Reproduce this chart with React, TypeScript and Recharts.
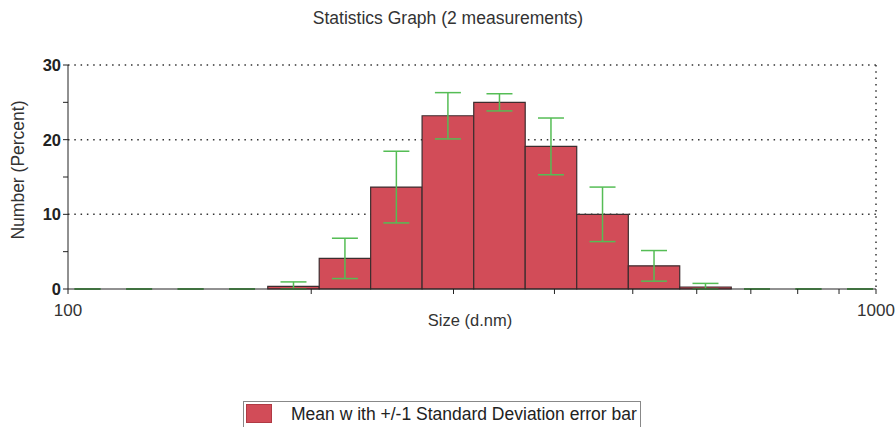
import React from "react";
import {
  ComposedChart,
  XAxis,
  YAxis,
  CartesianGrid,
  ReferenceArea,
  Scatter,
  ErrorBar,
} from "recharts";

// Size classes (d.nm): lower and upper edges of each bin
const binLow = [98.2, 113.8, 131.8, 152.6, 176.7, 204.6, 236.9, 274.3, 317.8, 368.0, 426.2, 493.7, 571.6, 662.0, 766.6, 887.8];
const binHigh = [113.8, 131.8, 152.6, 176.7, 204.6, 236.9, 274.3, 317.8, 368.0, 426.2, 493.7, 571.6, 662.0, 766.6, 887.8, 1028.0];
// Mean number percent per bin
const meanValues = [0, 0, 0, 0, 0.35, 4.1, 13.65, 23.2, 25.0, 19.1, 10.0, 3.1, 0.27, 0, 0, 0];
// Standard deviation per bin
const sdValues = [0, 0, 0, 0, 0.6, 2.7, 4.8, 3.1, 1.15, 3.8, 3.65, 2.05, 0.48, 0, 0, 0];

const xTicks = [100, 200, 300, 400, 500, 600, 700, 800, 900, 1000];
const xLabels = [100, 1000];
const yTicks = [0, 5, 10, 15, 20, 25, 30];
const yLabels = [0, 10, 20, 30];

const title = "Statistics Graph (2 measurements)";
const xTitle = "Size (d.nm)";
const yTitle = "Number (Percent)";
const legendText = "Mean w ith +/-1 Standard Deviation error bar";

const FILL = "#d24c58";
const EDGE = "#3d2d2f";
const GREEN = "#55bd55";
const FONT = "'Liberation Sans', Arial, sans-serif";

const points = meanValues.map((m, i) => ({
  size: Math.sqrt(binLow[i] * binHigh[i]),
  mean: m,
  err: [Math.min(m, sdValues[i]), sdValues[i]],
}));

export default function App() {
  return (
    <div
      style={{
        position: "absolute",
        left: 0,
        top: 0,
        width: 896,
        height: 427,
        background: "#fff",
        fontFamily: FONT,
        overflow: "hidden",
      }}
    >
      <div
        style={{
          position: "absolute",
          top: 8,
          left: 448,
          transform: "translateX(-50%)",
          fontSize: 17.5,
          color: "#333",
          whiteSpace: "nowrap",
        }}
      >
        {title}
      </div>
      <div
        style={{
          position: "absolute",
          left: 18,
          top: 170,
          transform: "translate(-50%, -50%) rotate(-90deg)",
          fontSize: 17.5,
          color: "#333",
          whiteSpace: "nowrap",
        }}
      >
        {yTitle}
      </div>
      <div
        style={{
          position: "absolute",
          top: 311,
          left: 470,
          transform: "translateX(-50%)",
          fontSize: 16.5,
          color: "#333",
          whiteSpace: "nowrap",
        }}
      >
        {xTitle}
      </div>
      <ComposedChart
        width={896}
        height={427}
        margin={{ top: 65, right: 20, left: 28, bottom: 108 }}
        data={points}
      >
        <CartesianGrid
          horizontalValues={[10, 20, 30]}
          verticalValues={[1000]}
          stroke="#333"
          strokeDasharray="1.5 4.8"
          strokeWidth={1.5}
        />
        {meanValues.map((m, i) =>
          m > 0 ? (
            <ReferenceArea
              key={i}
              x1={binLow[i]}
              x2={binHigh[i]}
              y1={0}
              y2={m}
              fill={FILL}
              fillOpacity={1}
              stroke={EDGE}
              strokeWidth={1.2}
              ifOverflow="extendDomain"
            />
          ) : null
        )}
        <XAxis
          dataKey="size"
          type="number"
          scale="log"
          domain={[100, 1000]}
          allowDataOverflow
          ticks={xTicks}
          tickFormatter={(v: number) => (xLabels.includes(v) ? String(v) : "")}
          interval={0}
          height={30}
          tickSize={5}
          stroke="#222"
          fontSize={17}
          tick={{ fill: "#333", fontSize: 17, fontFamily: FONT, dy: 8 }}
        />
        <YAxis
          type="number"
          domain={[0, 30]}
          allowDataOverflow
          ticks={yTicks}
          tickFormatter={(v: number) => (yLabels.includes(v) ? String(v) : "")}
          interval={0}
          width={40}
          tickSize={5}
          stroke="#222"
          tick={{ fill: "#222", fontSize: 16.5, fontWeight: "bold", fontFamily: FONT }}
        />
        <Scatter
          dataKey="mean"
          isAnimationActive={false}
          shape={() => <g />}
        >
          <ErrorBar
            dataKey="err"
            direction="y"
            width={13}
            stroke={GREEN}
            strokeWidth={1.5}
            isAnimationActive={false}
          />
        </Scatter>
      </ComposedChart>
      <div
        style={{
          position: "absolute",
          left: 243,
          top: 401,
          width: 398,
          height: 30,
          borderTop: "1px solid #888",
          borderLeft: "1px solid #888",
          borderRight: "1px solid #888",
          boxSizing: "border-box",
        }}
      >
        <div
          style={{
            position: "absolute",
            left: 2,
            top: 2,
            width: 26,
            height: 19,
            background: FILL,
            border: "1px solid #b03a44",
            boxSizing: "border-box",
          }}
        />
        <div
          style={{
            position: "absolute",
            left: 47,
            top: 2,
            fontSize: 17.5,
            color: "#222",
            whiteSpace: "nowrap",
          }}
        >
          {legendText}
        </div>
      </div>
    </div>
  );
}
